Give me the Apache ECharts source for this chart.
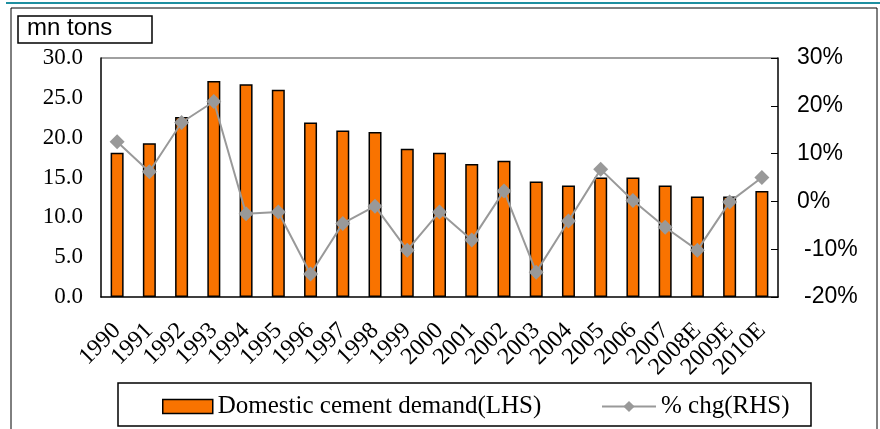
<!DOCTYPE html>
<html><head><meta charset="utf-8">
<script src="https://cdn.jsdelivr.net/npm/echarts@6/dist/echarts.min.js"></script>
<style>html,body{margin:0;padding:0;background:#fff}#c{width:880px;height:429px}</style>
</head><body><div id="c"></div>
<script>
const categories = ['1990','1991','1992','1993','1994','1995','1996','1997','1998','1999','2000','2001','2002','2003','2004','2005','2006','2007','2008E','2009E','2010E'];
const demand = [18.1,19.3,22.6,27.1,26.7,26.0,21.9,20.9,20.7,18.6,18.1,16.7,17.1,14.5,14.0,15.0,15.0,14.0,12.6,12.6,13.3];
const pctChg = [12.5,6.2,16.5,20.9,-2.6,-2.2,-15.2,-4.6,-1.0,-10.2,-2.2,-8.1,2.2,-14.8,-4.1,6.7,0.2,-5.4,-10.2,-0.1,5.0];
const leftTicks = {min:0,max:30,interval:5};
const rightTicks = {min:-20,max:30,interval:10};

const chart = echarts.init(document.getElementById('c'));
const serif = '"Liberation Serif","DejaVu Serif",serif';
const sans = '"Liberation Sans",Arial,sans-serif';
chart.setOption({
  animation:false,
  grid:{left:101,right:102,top:58,bottom:132},
  legend:[
    {left:157, top:389,
     textStyle:{fontFamily:serif,fontSize:25,color:'#000'},
     data:[{name:'Domestic cement demand(LHS)', icon:'rect', itemStyle:{borderColor:'#000',borderWidth:1.5}}],
     itemWidth:50, itemHeight:14},
    {left:596, top:389,
     textStyle:{fontFamily:serif,fontSize:25,color:'#000'},
     data:[{name:'% chg(RHS)'}],
     itemWidth:54, itemHeight:14}
  ],
  xAxis:{
    type:'category', data:categories,
    axisLine:{lineStyle:{color:'#000',width:1.5}},
    axisTick:{inside:true,length:6,lineStyle:{color:'#000'}},
    axisLabel:{rotate:45,interval:0,fontFamily:serif,fontSize:24,color:'#000',margin:30}
  },
  yAxis:[
    {type:'value',min:leftTicks.min,max:leftTicks.max,interval:leftTicks.interval,
     axisLine:{show:true,lineStyle:{color:'#000',width:1.5}},axisTick:{show:false},splitLine:{show:false},
     axisLabel:{formatter:v=>v.toFixed(1),fontFamily:serif,fontSize:23,color:'#000',margin:18}},
    {type:'value',min:rightTicks.min,max:rightTicks.max,interval:rightTicks.interval,position:'right',
     axisLine:{show:true,lineStyle:{color:'#000',width:1.5}},axisTick:{show:true,inside:true,length:7,lineStyle:{color:'#000'}},splitLine:{show:false},
     axisLabel:{formatter:v=>v<0?'{n|'+v+'%}':v+'%',fontFamily:sans,fontSize:23,color:'#000',margin:19,
       rich:{n:{fontFamily:sans,fontSize:23,color:'#000',padding:[0,0,0,7]}}}}
  ],
  series:[
    {name:'Domestic cement demand(LHS)',type:'bar',data:demand,barWidth:13,
     itemStyle:{color:'#F97300',borderColor:'#000',borderWidth:1.5}},
    {name:'% chg(RHS)',type:'line',yAxisIndex:1,data:pctChg,symbol:'diamond',symbolSize:15,
     lineStyle:{color:'#999',width:2},itemStyle:{color:'#999'}}
  ],
  graphic:[
    {type:'line',shape:{x1:6,y1:3,x2:880,y2:3},style:{stroke:'#1E8FA0',lineWidth:2}},
    {type:'rect',shape:{x:11,y:8,width:866,height:440},style:{fill:'none',stroke:'#000',lineWidth:1}},
    {type:'line',shape:{x1:101,y1:58,x2:778,y2:58},style:{stroke:'#808080',lineWidth:1.5}},
    {type:'rect',shape:{x:18,y:16,width:134,height:27},style:{fill:'#fff',stroke:'#000',lineWidth:1.5}},
    {type:'text',left:27,top:16,style:{text:'mn tons',font:'24px "Liberation Sans",Arial,sans-serif',fill:'#000'}},
    {type:'rect',shape:{x:118,y:383,width:693,height:43},style:{fill:'none',stroke:'#000',lineWidth:1.5},z:-1}
  ]
});
</script></body></html>
